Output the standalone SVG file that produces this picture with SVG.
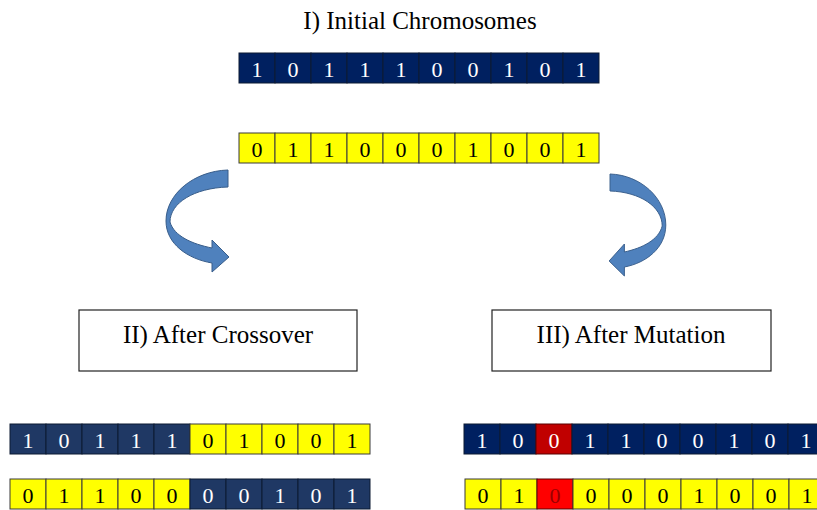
<svg xmlns="http://www.w3.org/2000/svg" width="817" height="510" viewBox="0 0 817 510">
  <style>
    .t { font-family: "Liberation Serif", "Times New Roman", serif; fill: #000; }
    .title { font-size: 25px; text-anchor: middle; }
    .lbl { font-size: 25px; text-anchor: middle; }
    .d { font-family: "Liberation Serif", "Times New Roman", serif; font-size: 22px; text-anchor: middle; }
    .navy { fill: #002060; stroke: #0d1a33; stroke-width: 1; }
    .navy2 { fill: #1f3864; stroke: #0d1a33; stroke-width: 1; }
    .yel { fill: #ffff00; stroke: #3b3b3b; stroke-width: 1; }
    .red { fill: #c00000; stroke: #5a0000; stroke-width: 1; }
    .red2 { fill: #ff0000; stroke: #5a0000; stroke-width: 1; }
    .w { fill: #ffffff; }
    .k { fill: #000000; }
    .rk { fill: #9a0000; }
    .box { fill: #ffffff; stroke: #222; stroke-width: 1.2; }
    .arr { fill: #4f81bd; stroke: #385d8a; stroke-width: 1; }
  </style>
  <defs>
    <!-- curved ribbon arrow (left-hand version) -->
    <path id="curl" d="M228,170 C194,171 166,194 166,221 C166,244 188,259 212,263 L212,272 L229,257 L212,240 L212,248 C192,244 174,236 170,222 C170,203 194,188 228,187 Z"/>
  </defs>

  <rect width="817" height="510" fill="#ffffff"/>

  <g id="title">
    <text class="t title" x="420" y="29">I) Initial Chromosomes</text>
  </g>

  <!-- parent chromosome 1 -->
  <g id="parent1">
    <rect class="navy" x="239" y="53" width="36" height="30"/>
    <rect class="navy" x="275" y="53" width="36" height="30"/>
    <rect class="navy" x="311" y="53" width="36" height="30"/>
    <rect class="navy" x="347" y="53" width="36" height="30"/>
    <rect class="navy" x="383" y="53" width="36" height="30"/>
    <rect class="navy" x="419" y="53" width="36" height="30"/>
    <rect class="navy" x="455" y="53" width="36" height="30"/>
    <rect class="navy" x="491" y="53" width="36" height="30"/>
    <rect class="navy" x="527" y="53" width="36" height="30"/>
    <rect class="navy" x="563" y="53" width="36" height="30"/>
    <g class="d w">
      <text x="257" y="77">1</text><text x="293" y="77">0</text><text x="329" y="77">1</text><text x="365" y="77">1</text><text x="401" y="77">1</text>
      <text x="437" y="77">0</text><text x="473" y="77">0</text><text x="509" y="77">1</text><text x="545" y="77">0</text><text x="581" y="77">1</text>
    </g>
  </g>

  <!-- parent chromosome 2 -->
  <g id="parent2">
    <rect class="yel" x="239" y="133" width="36" height="30"/>
    <rect class="yel" x="275" y="133" width="36" height="30"/>
    <rect class="yel" x="311" y="133" width="36" height="30"/>
    <rect class="yel" x="347" y="133" width="36" height="30"/>
    <rect class="yel" x="383" y="133" width="36" height="30"/>
    <rect class="yel" x="419" y="133" width="36" height="30"/>
    <rect class="yel" x="455" y="133" width="36" height="30"/>
    <rect class="yel" x="491" y="133" width="36" height="30"/>
    <rect class="yel" x="527" y="133" width="36" height="30"/>
    <rect class="yel" x="563" y="133" width="36" height="30"/>
    <g class="d k">
      <text x="257" y="157">0</text><text x="293" y="157">1</text><text x="329" y="157">1</text><text x="365" y="157">0</text><text x="401" y="157">0</text>
      <text x="437" y="157">0</text><text x="473" y="157">1</text><text x="509" y="157">0</text><text x="545" y="157">0</text><text x="581" y="157">1</text>
    </g>
  </g>

  <!-- connectors: curved arrows -->
  <g id="connectors">
    <use href="#curl" class="arr"/>
    <use href="#curl" class="arr" transform="translate(815.2,4) scale(-0.9,1)"/>
  </g>

  <g id="crossover-label">
    <rect class="box" x="79" y="310" width="278" height="61"/>
    <text class="t lbl" x="218" y="343">II) After Crossover</text>
  </g>

  <g id="mutation-label">
    <rect class="box" x="492" y="310" width="279" height="61"/>
    <text class="t lbl" x="631" y="343">III) After Mutation</text>
  </g>

  <!-- offspring after crossover -->
  <g id="child1">
    <rect class="navy2" x="10" y="424" width="36" height="30"/>
    <rect class="navy2" x="46" y="424" width="36" height="30"/>
    <rect class="navy2" x="82" y="424" width="36" height="30"/>
    <rect class="navy2" x="118" y="424" width="36" height="30"/>
    <rect class="navy2" x="154" y="424" width="36" height="30"/>
    <rect class="yel" x="190" y="424" width="36" height="30"/>
    <rect class="yel" x="226" y="424" width="36" height="30"/>
    <rect class="yel" x="262" y="424" width="36" height="30"/>
    <rect class="yel" x="298" y="424" width="36" height="30"/>
    <rect class="yel" x="334" y="424" width="36" height="30"/>
    <g class="d w">
      <text x="28" y="448">1</text><text x="64" y="448">0</text><text x="100" y="448">1</text><text x="136" y="448">1</text><text x="172" y="448">1</text>
    </g>
    <g class="d k">
      <text x="208" y="448">0</text><text x="244" y="448">1</text><text x="280" y="448">0</text><text x="316" y="448">0</text><text x="352" y="448">1</text>
    </g>
  </g>

  <g id="child2">
    <rect class="yel" x="10" y="479" width="36" height="30"/>
    <rect class="yel" x="46" y="479" width="36" height="30"/>
    <rect class="yel" x="82" y="479" width="36" height="30"/>
    <rect class="yel" x="118" y="479" width="36" height="30"/>
    <rect class="yel" x="154" y="479" width="36" height="30"/>
    <rect class="navy2" x="190" y="479" width="36" height="30"/>
    <rect class="navy2" x="226" y="479" width="36" height="30"/>
    <rect class="navy2" x="262" y="479" width="36" height="30"/>
    <rect class="navy2" x="298" y="479" width="36" height="30"/>
    <rect class="navy2" x="334" y="479" width="36" height="30"/>
    <g class="d k">
      <text x="28" y="503">0</text><text x="64" y="503">1</text><text x="100" y="503">1</text><text x="136" y="503">0</text><text x="172" y="503">0</text>
    </g>
    <g class="d w">
      <text x="208" y="503">0</text><text x="244" y="503">0</text><text x="280" y="503">1</text><text x="316" y="503">0</text><text x="352" y="503">1</text>
    </g>
  </g>

  <!-- offspring after mutation -->
  <g id="mutant1">
    <rect class="navy" x="464" y="424" width="36" height="30"/>
    <rect class="navy" x="500" y="424" width="36" height="30"/>
    <rect class="red" x="536" y="424" width="36" height="30"/>
    <rect class="navy" x="572" y="424" width="36" height="30"/>
    <rect class="navy" x="608" y="424" width="36" height="30"/>
    <rect class="navy" x="644" y="424" width="36" height="30"/>
    <rect class="navy" x="680" y="424" width="36" height="30"/>
    <rect class="navy" x="716" y="424" width="36" height="30"/>
    <rect class="navy" x="752" y="424" width="36" height="30"/>
    <rect class="navy" x="788" y="424" width="36" height="30"/>
    <g class="d w">
      <text x="482" y="448">1</text><text x="518" y="448">0</text><text x="554" y="448">0</text><text x="590" y="448">1</text><text x="626" y="448">1</text>
      <text x="662" y="448">0</text><text x="698" y="448">0</text><text x="734" y="448">1</text><text x="770" y="448">0</text><text x="806" y="448">1</text>
    </g>
  </g>

  <g id="mutant2">
    <rect class="yel" x="465" y="479" width="36" height="30"/>
    <rect class="yel" x="501" y="479" width="36" height="30"/>
    <rect class="red2" x="537" y="479" width="36" height="30"/>
    <rect class="yel" x="573" y="479" width="36" height="30"/>
    <rect class="yel" x="609" y="479" width="36" height="30"/>
    <rect class="yel" x="645" y="479" width="36" height="30"/>
    <rect class="yel" x="681" y="479" width="36" height="30"/>
    <rect class="yel" x="717" y="479" width="36" height="30"/>
    <rect class="yel" x="753" y="479" width="36" height="30"/>
    <rect class="yel" x="789" y="479" width="36" height="30"/>
    <g class="d k">
      <text x="483" y="503">0</text><text x="519" y="503">1</text>
      <text x="591" y="503">0</text><text x="627" y="503">0</text><text x="663" y="503">0</text><text x="699" y="503">1</text>
      <text x="735" y="503">0</text><text x="771" y="503">0</text><text x="807" y="503">1</text>
    </g>
    <text class="d rk" x="555" y="503">0</text>
  </g>
</svg>
